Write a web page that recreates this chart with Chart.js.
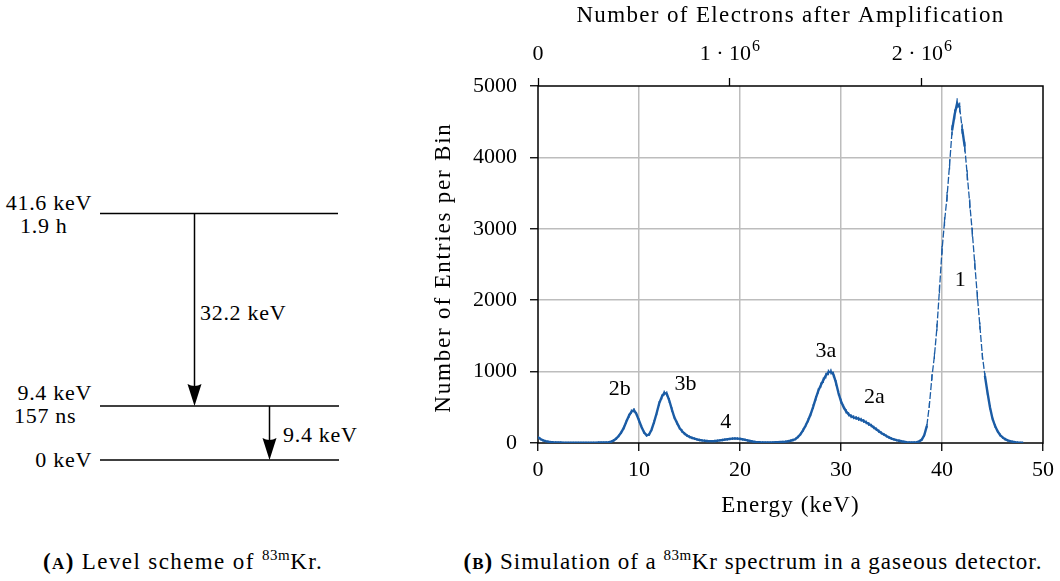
<!DOCTYPE html>
<html>
<head>
<meta charset="utf-8">
<script src="https://cdn.jsdelivr.net/npm/chart.js@4.4.1/dist/chart.umd.min.js"></script>
<style>
  html, body { margin: 0; padding: 0; background: #fff; }
  body { width: 1060px; height: 581px; position: relative; overflow: hidden; font-family: "Liberation Serif", serif; color: #000; }
  #scheme { position: absolute; left: 0; top: 0; }
  #wrap { position: absolute; left: 420px; top: 0; width: 640px; height: 530px; }
  .cap { position: absolute; top: 550px; font-size: 23px; line-height: 23px; white-space: nowrap; transform: translateX(-50%); }
  .cap sup { font-size: 15px; line-height: 0; vertical-align: 9px; letter-spacing: 0.5px; }
  .cap .sc { font-size: 17px; }
</style>
</head>
<body>

<svg id="scheme" width="420" height="540" font-family="'Liberation Serif', serif" font-size="22" fill="#000" letter-spacing="0.7">
  <g stroke="#000" stroke-width="1.5">
    <line x1="100" y1="213.5" x2="338" y2="213.5"/>
    <line x1="100" y1="406" x2="339" y2="406"/>
    <line x1="100" y1="460" x2="339" y2="460"/>
    <line x1="194.5" y1="213.5" x2="194.5" y2="390"/>
    <line x1="269.5" y1="406" x2="269.5" y2="444"/>
  </g>
  <path d="M194.5 406 L187.5 384 Q194.5 388 201.5 384 Z"/>
  <path d="M269.5 460 L262.5 438 Q269.5 442 276.5 438 Z"/>
  <text x="92" y="210" text-anchor="end">41.6 keV</text>
  <text x="20" y="233">1.9 h</text>
  <text x="92" y="400" text-anchor="end">9.4 keV</text>
  <text x="14" y="423">157 ns</text>
  <text x="92" y="467" text-anchor="end">0 keV</text>
  <text x="200" y="320">32.2 keV</text>
  <text x="283" y="442">9.4 keV</text>
</svg>

<div id="wrap"><canvas id="spectrum" width="640" height="530"></canvas></div>

<div class="cap" style="left:183px; letter-spacing:1.4px"><b>(<span class="sc">A</span>)</b> Level scheme of <sup>83m</sup>Kr.</div>
<div class="cap" style="left:753px; letter-spacing:1px"><b>(<span class="sc">B</span>)</b> Simulation of a <sup>83m</sup>Kr spectrum in a gaseous detector.</div>

<script>
// bin centres (keV)
const energy = [
  0, 0.25, 0.5, 0.75, 1, 1.25, 1.5, 1.75, 2, 2.25, 2.5, 2.75, 3, 3.25, 3.5, 3.75,
  4, 4.25, 4.5, 4.75, 5, 5.25, 5.5, 5.75, 6, 6.25, 6.5, 6.75, 7, 7.25, 7.5, 7.75,
  8, 8.25, 8.5, 8.75, 9, 9.25, 9.5, 9.75, 10, 10.25, 10.5, 10.75, 11, 11.25, 11.5, 11.75,
  12, 12.25, 12.5, 12.75, 13, 13.25, 13.5, 13.75, 14, 14.25, 14.5, 14.75, 15, 15.25, 15.5, 15.75,
  16, 16.25, 16.5, 16.75, 17, 17.25, 17.5, 17.75, 18, 18.25, 18.5, 18.75, 19, 19.25, 19.5, 19.75,
  20, 20.25, 20.5, 20.75, 21, 21.25, 21.5, 21.75, 22, 22.25, 22.5, 22.75, 23, 23.25, 23.5, 23.75,
  24, 24.25, 24.5, 24.75, 25, 25.25, 25.5, 25.75, 26, 26.25, 26.5, 26.75, 27, 27.25, 27.5, 27.75,
  28, 28.25, 28.5, 28.75, 29, 29.25, 29.5, 29.75, 30, 30.25, 30.5, 30.75, 31, 31.25, 31.5, 31.75,
  32, 32.25, 32.5, 32.75, 33, 33.25, 33.5, 33.75, 34, 34.25, 34.5, 34.75, 35, 35.25, 35.5, 35.75,
  36, 36.25, 36.5, 36.75, 37, 37.25, 37.5, 37.75, 38, 38.25, 38.5, 38.75, 39, 39.25, 39.5, 39.75,
  40, 40.25, 40.5, 40.75, 41, 41.25, 41.5, 41.75, 42, 42.25, 42.5, 42.75, 43, 43.25, 43.5, 43.75,
  44, 44.25, 44.5, 44.75, 45, 45.25, 45.5, 45.75, 46, 46.25, 46.5, 46.75, 47, 47.25, 47.5, 47.75,
  48
];
// entries per bin
const entries = [
  80, 55, 38, 27, 19, 14, 11, 9, 7, 6, 5, 5, 4, 4, 4, 3,
  4, 3, 4, 4, 4, 5, 5, 5, 6, 6, 7, 9, 12, 20, 36, 62,
  100, 150, 215, 300, 380, 440, 460, 405, 315, 225, 150, 108, 118, 190, 295, 420,
  555, 645, 700, 690, 595, 470, 360, 285, 215, 168, 132, 105, 86, 72, 60, 50,
  42, 36, 31, 28, 26, 26, 28, 32, 37, 42, 48, 53, 57, 61, 63, 62,
  58, 52, 44, 36, 28, 21, 15, 12, 10, 9, 8, 8, 8, 9, 10, 11,
  13, 15, 19, 25, 32, 42, 56, 85, 125, 180, 245, 320, 405, 510, 625, 730,
  810, 880, 945, 990, 1000, 960, 845, 700, 585, 505, 445, 402, 375, 360, 350, 338,
  325, 308, 288, 266, 245, 218, 192, 165, 140, 118, 97, 78, 62, 50, 40, 32,
  24, 17, 12, 9, 8, 9, 13, 24, 48, 110, 240, 530, 920, 1220, 1620, 2150,
  2700, 3100, 3450, 3900, 4380, 4600, 4760, 4700, 4400, 4150, 3750, 3350, 2950, 2500, 2060, 1640,
  1220, 940, 710, 500, 340, 240, 165, 112, 78, 54, 38, 27, 18, 12, 8, 5,
  3
];

const energyTicks = [0, 10, 20, 30, 40, 50];
const countTicks = [0, 1000, 2000, 3000, 4000, 5000];
const electronTicks = [0, 1e6, 2e6];
const electronMantissa = ["0", "1 · 10", "2 · 10"];
const electronExponent = ["", "6", "6"];
const keVPerMillion = 19.0;   // gain: 1e6 electrons at about 19 keV

const peakNames = ["2b", "3b", "4", "3a", "2a", "1"];
const peakLabelE = [8.1, 14.6, 18.6, 28.5, 33.3, 41.8];
const peakLabelN = [760, 830, 290, 1290, 640, 2280];

const titleTop = "Number of Electrons after Amplification";
const titleBottom = "Energy (keV)";
const titleLeft = "Number of Entries per Bin";

const blue = "#1b5ca5";
const gridGray = "#bdbdbd";
const FONT = { family: "'Liberation Serif', serif", size: 22 };
const fontStr = (px) => px + "px 'Liberation Serif', serif";

const frame = {
    id: "frame",
    beforeDatasetsDraw(chart) {
        const { ctx, chartArea: a } = chart;
        ctx.save();
        ctx.strokeStyle = "#000";
        ctx.lineWidth = 1.5;
        ctx.strokeRect(a.left, a.top, a.right - a.left, a.bottom - a.top);
        ctx.restore();
    }
};

// axis titles (spaced a bit wider) and the 10^6 labels of the top axis
const axisText = {
    id: "axisText",
    afterDraw(chart) {
        const { ctx, chartArea: a, scales } = chart;
        const cx = (a.left + a.right) / 2;
        ctx.save();
        ctx.fillStyle = "#000";
        ctx.font = fontStr(23);
        ctx.textAlign = "center";
        ctx.textBaseline = "middle";

        ctx.letterSpacing = "1.35px";
        ctx.fillText(titleTop, cx, 16);
        ctx.letterSpacing = "1.1px";
        ctx.fillText(titleBottom, cx, 506);
        ctx.letterSpacing = "1.8px";
        ctx.save();
        ctx.translate(24, (a.top + a.bottom) / 2 + 3);
        ctx.rotate(-Math.PI / 2);
        ctx.fillText(titleLeft, 0, 0);
        ctx.restore();
        ctx.letterSpacing = "0px";

        ctx.textBaseline = "alphabetic";
        ctx.textAlign = "left";
        electronTicks.forEach((v, i) => {
            const x = scales.x2.getPixelForValue(v);
            ctx.font = fontStr(22);
            const w1 = ctx.measureText(electronMantissa[i]).width;
            ctx.font = fontStr(16);
            const w2 = electronExponent[i] ? ctx.measureText(electronExponent[i]).width + 1 : 0;
            const x0 = x - (w1 + w2) / 2;
            ctx.font = fontStr(22);
            ctx.fillText(electronMantissa[i], x0, 60);
            if (w2) {
                ctx.font = fontStr(16);
                ctx.fillText(electronExponent[i], x0 + w1 + 1, 51);
            }
        });
        ctx.restore();
    }
};

const peakText = {
    id: "peakText",
    afterDatasetsDraw(chart) {
        const { ctx, scales } = chart;
        ctx.save();
        ctx.font = fontStr(22);
        ctx.fillStyle = "#000";
        ctx.textAlign = "center";
        ctx.textBaseline = "middle";
        peakNames.forEach((name, i) => {
            ctx.fillText(name, scales.x.getPixelForValue(peakLabelE[i]), scales.y.getPixelForValue(peakLabelN[i]));
        });
        ctx.restore();
    }
};

const hideEdge = (edges) => (c) => (c.tick && edges.includes(c.tick.value)) ? "rgba(0,0,0,0)" : gridGray;
const steep = (s) => Math.abs(s.p1.parsed.y - s.p0.parsed.y) > 250;

new Chart(document.getElementById("spectrum"), {
    type: "line",
    data: {
        datasets: [{
            data: energy.map((e, i) => ({ x: e, y: entries[i] })),
            borderColor: blue,
            backgroundColor: blue,
            borderWidth: 2.4,
            tension: 0,
            segment: {
                borderWidth: (s) => steep(s) ? 1.3 : 2.4,
                borderDash: (s) => steep(s) ? [7, 2] : undefined
            },
            pointStyle: "line",
            rotation: 90,
            pointBorderWidth: 1.2,
            pointRadius: (c) => {
                const v = c.raw ? c.raw.y : 0;
                return Math.min(5, 0.8 + Math.sqrt(v) / 15);
            },
            xAxisID: "x",
            yAxisID: "y"
        }]
    },
    options: {
        responsive: false,
        animation: false,
        devicePixelRatio: 1,
        layout: { padding: { left: 0, right: 17, top: 0, bottom: 0 } },
        plugins: { legend: { display: false }, tooltip: { enabled: false } },
        scales: {
            x: {
                type: "linear",
                position: "bottom",
                min: 0, max: 50,
                afterBuildTicks: (s) => { s.ticks = energyTicks.map((v) => ({ value: v })); },
                afterFit: (s) => { s.height = 87; },
                ticks: { font: FONT, color: "#000", padding: 6, maxRotation: 0, callback: (v) => String(v) },
                grid: { color: hideEdge([0, 50]), lineWidth: 1.5, tickColor: "#000", tickLength: 8, tickWidth: 1.3 },
                border: { display: false }
            },
            x2: {
                type: "linear",
                position: "top",
                min: 0, max: 50 / keVPerMillion * 1e6,
                afterBuildTicks: (s) => { s.ticks = electronTicks.map((v) => ({ value: v })); },
                afterFit: (s) => { s.height = 86; },
                ticks: { display: false },
                grid: { drawOnChartArea: false, tickColor: "#000", tickLength: 8, tickWidth: 1.3 },
                border: { display: false }
            },
            y: {
                type: "linear",
                position: "left",
                min: 0, max: 5000,
                afterBuildTicks: (s) => { s.ticks = countTicks.map((v) => ({ value: v })); },
                afterFit: (s) => { s.width = 118; },
                ticks: { font: FONT, color: "#000", padding: 13, callback: (v) => String(v) },
                grid: { color: hideEdge([0, 5000]), lineWidth: 1.5, tickColor: "#000", tickLength: 8, tickWidth: 1.3 },
                border: { display: false }
            }
        }
    },
    plugins: [frame, peakText, axisText]
});
</script>
</body>
</html>
